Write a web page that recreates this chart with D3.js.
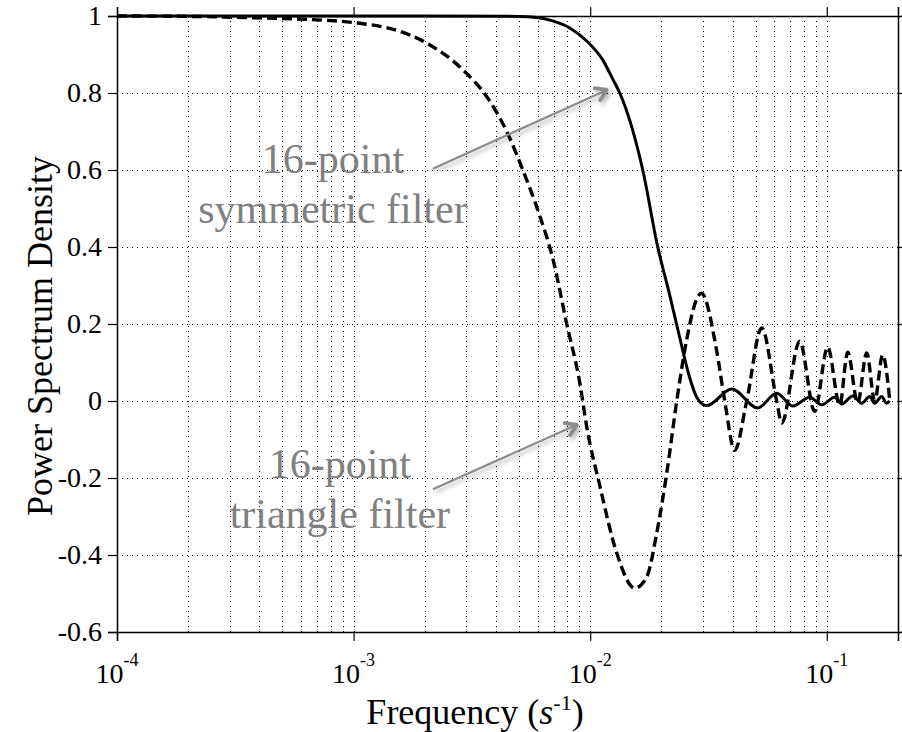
<!DOCTYPE html>
<html>
<head>
<meta charset="utf-8">
<title>Power Spectrum Density</title>
<script src="https://d3js.org/d3.v7.min.js"></script>
<style>
  body { margin: 0; background: #fff; }
  text { font-family: "Times New Roman", "Liberation Serif", serif; }
</style>
</head>
<body>
<script>
// frequency (1/s) and power
var symmetricFreq = [1e-4, 1e-3, 5e-3, 5.95e-3, 6.88e-3, 8.2e-3, 9.67e-3, 1.13e-2, 1.246e-2, 1.334e-2, 1.668e-2,
  1.93e-2, 2.169e-2, 2.39e-2, 2.635e-2, 2.82e-2, 3.109e-2, 3.963e-2, 5.107e-2, 6.142e-2, 7.18e-2, 8.47e-2,
  9.52e-2, 0.108, 0.1156, 0.1287, 0.1405, 0.1518, 0.1594, 0.1706, 0.179, 0.1843];
var symmetricPsd = [1, 1, 0.999, 0.996, 0.988, 0.969, 0.935, 0.886, 0.836, 0.80, 0.60,
  0.40, 0.275, 0.165, 0.06, 0.01, -0.012, 0.031, -0.018, 0.02, -0.013, 0.01,
  -0.01, 0.01, -0.008, 0.013, -0.006, 0.012, -0.006, 0.012, -0.006, 0.0];

var triangleFreq = [1e-4, 2e-4, 4e-4, 7e-4, 1e-3, 1.57e-3, 1.96e-3, 2.9e-3, 3.66e-3, 4.44e-3, 5.19e-3, 6.13e-3,
  6.95e-3, 7.96e-3, 9.04e-3, 9.67e-3, 1.098e-2, 1.295e-2, 1.543e-2, 1.734e-2, 1.911e-2, 2.107e-2, 2.322e-2,
  2.559e-2, 2.8e-2, 2.95e-2, 3.426e-2, 3.704e-2, 4.081e-2, 4.587e-2, 5.309e-2, 6.142e-2, 6.45e-2, 7.68e-2,
  8.89e-2, 0.1009, 0.1134, 0.1226, 0.1351, 0.1475, 0.1594, 0.1723, 0.1843];
var trianglePsd = [1, 0.999, 0.995, 0.99, 0.983, 0.96, 0.935, 0.86, 0.79, 0.70, 0.60, 0.48,
  0.37, 0.20, 0.047, -0.067, -0.22, -0.395, -0.486, -0.457, -0.343, -0.187, 0.0,
  0.16, 0.26, 0.28, 0.13, 0.0, -0.128, 0.0, 0.19, 0.0, -0.057, 0.155,
  -0.027, 0.14, -0.01, 0.127, -0.005, 0.125, 0.0, 0.12, 0.005];

var yTicks = [-0.6, -0.4, -0.2, 0, 0.2, 0.4, 0.6, 0.8, 1];
var yTickLabels = ["-0.6", "-0.4", "-0.2", "0", "0.2", "0.4", "0.6", "0.8", "1"];
var xTicks = [1e-4, 1e-3, 1e-2, 1e-1];
var xTickExponents = ["-4", "-3", "-2", "-1"];

// annotations: label lines, text anchor and arrow in data coordinates
var noteLines = [["16-point", "symmetric filter"], ["16-point", "triangle filter"]];
var noteAnchor = [[8.18e-4, 0.592], [8.75e-4, -0.2]];
var noteFrom = [[2.163e-3, 0.603], [2.163e-3, -0.229]];
var noteTo = [[1.175e-2, 0.808], [8.78e-3, -0.062]];

var width = 902, height = 732;

var x = d3.scaleLog().domain([1e-4, 0.2]).range([117, 898]);
var y = d3.scaleLinear().domain([-0.6, 1]).range([632, 16]);

var svg = d3.select("body").append("svg")
    .attr("width", width)
    .attr("height", height);

var defs = svg.append("defs");
var shadow = defs.append("filter").attr("id", "shadow")
    .attr("x", "-20%").attr("y", "-30%").attr("width", "150%").attr("height", "180%");
shadow.append("feDropShadow")
    .attr("dx", 2).attr("dy", 3).attr("stdDeviation", 2)
    .attr("flood-color", "#000").attr("flood-opacity", 0.3);

defs.append("marker")
    .attr("id", "head")
    .attr("viewBox", "0 0 12 12")
    .attr("refX", 9.5).attr("refY", 6)
    .attr("markerWidth", 8).attr("markerHeight", 8)
    .attr("markerUnits", "strokeWidth")
    .attr("orient", "auto")
  .append("path")
    .attr("d", "M2.5,1.5 L9.5,6 L2.5,10.5")
    .attr("fill", "none")
    .attr("stroke", "#8c8c8c")
    .attr("stroke-width", 2.6)
    .attr("stroke-linecap", "round")
    .attr("stroke-linejoin", "round");

// minor + major vertical grid
var gridX = [];
[1e-4, 1e-3, 1e-2, 1e-1].forEach(function (d) {
  for (var k = 1; k < 10; k++) {
    var v = d * k;
    if (v > 1e-4 && v < 0.199) gridX.push(v);
  }
});

var grid = svg.append("g")
    .attr("stroke", "#000")
    .attr("stroke-width", 1)
    .attr("stroke-dasharray", "1,4");

grid.selectAll(".gx").data(gridX).enter().append("line")
    .attr("x1", function (d) { return Math.round(x(d)) + 0.5; })
    .attr("x2", function (d) { return Math.round(x(d)) + 0.5; })
    .attr("y1", y(1)).attr("y2", y(-0.6));

grid.selectAll(".gy").data(yTicks.slice(1, -1)).enter().append("line")
    .attr("y1", function (d) { return Math.round(y(d)) + 0.5; })
    .attr("y2", function (d) { return Math.round(y(d)) + 0.5; })
    .attr("x1", x(1e-4)).attr("x2", x(0.2));

// axes (box with outward ticks)
var axisLeft = d3.axisLeft(y).tickValues(yTicks).tickSize(9).tickPadding(6)
    .tickFormat(function (d, i) { return yTickLabels[i]; });
var axisRight = d3.axisRight(y).tickValues(yTicks).tickSize(9).tickFormat("");
var axisBottom = d3.axisBottom(x).tickValues(xTicks).tickSize(9).tickFormat("");
var axisTop = d3.axisTop(x).tickValues(xTicks).tickSize(9).tickFormat("");

var gl = svg.append("g").attr("transform", "translate(" + x(1e-4) + ",0)").call(axisLeft);
svg.append("g").attr("transform", "translate(" + x(0.2) + ",0)").call(axisRight);
svg.append("g").attr("transform", "translate(0," + y(-0.6) + ")").call(axisBottom);
svg.append("g").attr("transform", "translate(0," + y(1) + ")").call(axisTop);

svg.selectAll(".domain").attr("stroke", "#000").attr("stroke-width", 1.5);
svg.selectAll(".tick line").attr("stroke", "#000").attr("stroke-width", 1.2);
gl.selectAll(".tick text")
    .attr("font-size", 28)
    .attr("fill", "#000");

// x tick labels: 10 with superscript exponent
var xl = svg.append("g").selectAll("text").data(xTicks).enter().append("text")
    .attr("x", function (d) { return x(d); })
    .attr("y", 683)
    .attr("text-anchor", "middle")
    .attr("font-size", 28)
    .attr("fill", "#000");
xl.append("tspan").text("10");
xl.append("tspan")
    .attr("dy", -17)
    .attr("font-size", 18)
    .text(function (d, i) { return xTickExponents[i]; });

// axis titles
var xt = svg.append("text")
    .attr("x", 475).attr("y", 724)
    .attr("text-anchor", "middle")
    .attr("font-size", 36)
    .attr("fill", "#000");
xt.append("tspan").text("Frequency (");
xt.append("tspan").attr("font-style", "italic").text("s");
xt.append("tspan").attr("dy", -14).attr("font-size", 22).text("-1");
xt.append("tspan").attr("dy", 14).text(")");

svg.append("text")
    .attr("transform", "translate(52," + 336 + ") rotate(-90)")
    .attr("text-anchor", "middle")
    .attr("font-size", 36)
    .attr("fill", "#000")
    .text("Power Spectrum Density");

// curves
var line = d3.line()
    .x(function (d) { return x(d[0]); })
    .y(function (d) { return y(d[1]); })
    .curve(d3.curveMonotoneX);

svg.append("path")
    .datum(d3.zip(triangleFreq, trianglePsd))
    .attr("fill", "none")
    .attr("stroke", "#000")
    .attr("stroke-width", 3.4)
    .attr("stroke-dasharray", "10,5")
    .attr("d", line);

svg.append("path")
    .datum(d3.zip(symmetricFreq, symmetricPsd))
    .attr("fill", "none")
    .attr("stroke", "#000")
    .attr("stroke-width", 3)
    .attr("d", line);

// annotations
noteLines.forEach(function (lines, i) {
  var t = svg.append("text")
      .attr("x", x(noteAnchor[i][0]))
      .attr("y", y(noteAnchor[i][1]))
      .attr("text-anchor", "middle")
      .attr("font-size", 42)
      .attr("fill", "#808080");
  t.selectAll("tspan").data(lines).enter().append("tspan")
      .attr("x", x(noteAnchor[i][0]))
      .attr("dy", function (d, j) { return j ? 50 : 0; })
      .text(function (d) { return d; });

  svg.append("line")
      .attr("x1", x(noteFrom[i][0])).attr("y1", y(noteFrom[i][1]))
      .attr("x2", x(noteTo[i][0])).attr("y2", y(noteTo[i][1]))
      .attr("stroke", "#8c8c8c")
      .attr("stroke-width", 2.2)
      .attr("marker-end", "url(#head)")
      .attr("filter", "url(#shadow)");
});
</script>
</body>
</html>
